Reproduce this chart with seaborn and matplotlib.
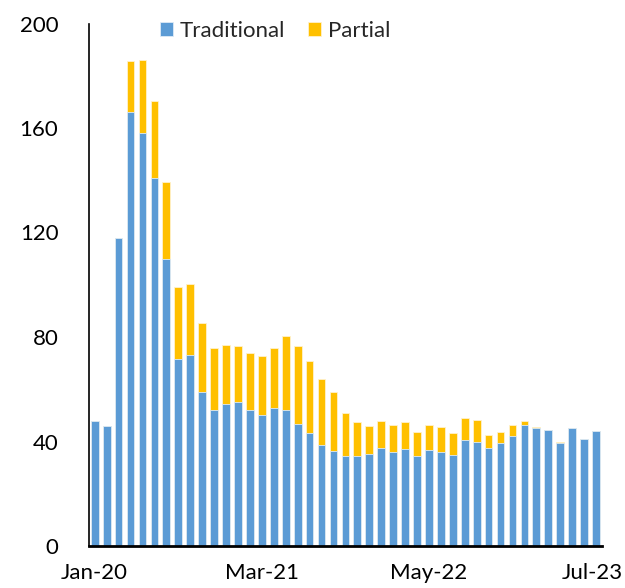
import pandas as pd
import numpy as np
import matplotlib
matplotlib.use('Agg')
import matplotlib.pyplot as plt
import matplotlib.transforms as mtransforms
import seaborn as sns

# Datos
months = pd.date_range('2020-01-01', periods=43, freq='MS').strftime('%b-%y').tolist()
traditional = [48, 46, 118, 166, 158, 141, 110, 71.5, 73, 59, 52, 54.5, 55, 52, 50,
               53, 52, 46.7, 43.3, 38.6, 36.5, 34.5, 34.5, 35.4, 37.6, 36.1, 37.1, 34.5,
               36.8, 36.1, 34.8, 40.5, 40, 37.6, 39.5, 42.2, 46.4, 45.2, 44.4, 39.5, 45,
               41, 44.1]
partial = [0, 0, 0, 19.6, 27.9, 29.4, 29.3, 27.7, 27.4, 26.3, 23.8, 22.6, 21.4, 21.8,
           22.6, 22.9, 28.2, 29.9, 27.6, 25.5, 22.4, 16.6, 12.9, 10.6, 10.2, 10.2, 10.2,
           9.2, 9.6, 9.4, 8.4, 8.4, 8.4, 4.8, 4.3, 4.1, 1.3, 0.2, 0, 0.3, 0, 0, 0]
tick_labels = ['Jan-20', 'Mar-21', 'May-22', 'Jul-23']
y_ticks = [0, 40, 80, 120, 160, 200]

df = pd.DataFrame({'month': months, 'Traditional': traditional, 'Partial': partial})
df['total'] = df['Traditional'] + df['Partial']

sns.set_style('white')
plt.rcParams['font.family'] = ['Lato', 'DejaVu Sans']

fig = plt.figure(figsize=(6.25, 5.88), dpi=100)
ax = fig.add_axes([89/625, 1 - 546/588, (602 - 89)/625, (546 - 23.5)/588])

blue = '#5B9BD5'
orange = '#FFC000'

# barras apiladas: total (naranja) y encima la parte tradicional (azul)
sns.barplot(data=df, x='month', y='total', color=orange, saturation=1, width=0.65,
            errorbar=None, edgecolor='#FFF2CC', linewidth=0.6, ax=ax, label='Partial')
sns.barplot(data=df, x='month', y='Traditional', color=blue, saturation=1, width=0.65,
            errorbar=None, edgecolor='#DEEBF7', linewidth=0.6, ax=ax, label='Traditional')

ax.set_ylim(0, 200)
ax.set_xlim(-0.48, 42.5)
ax.set_yticks(y_ticks)
ax.set_yticklabels([str(v) for v in y_ticks])
ax.set_xticks([months.index(t) for t in tick_labels])
ax.set_xticklabels(tick_labels)
ax.set_xlabel('')
ax.set_ylabel('')
ax.tick_params(axis='both', length=0, labelsize=16, colors='black')
ax.tick_params(axis='y', pad=22)
ax.tick_params(axis='x', pad=12)

# mover un poco la ultima etiqueta para que no se corte
last = ax.get_xticklabels()[-1]
last.set_transform(last.get_transform() + mtransforms.ScaledTranslation(-4/100, 0, fig.dpi_scale_trans))

for s in ['top', 'right']:
    ax.spines[s].set_visible(False)
ax.spines['left'].set_color('black')
ax.spines['left'].set_linewidth(1.2)
ax.spines['bottom'].set_color('black')
ax.spines['bottom'].set_linewidth(2)

handles, labels = ax.get_legend_handles_labels()
order = [labels.index('Traditional'), labels.index('Partial')]
ax.legend([handles[i] for i in order], [labels[i] for i in order],
          loc='center', bbox_to_anchor=(275/625, 1 - 31/588), bbox_transform=fig.transFigure,
          ncol=2, frameon=False, fontsize=16, handlelength=0.6, handleheight=0.6,
          handletextpad=0.3, columnspacing=1.0)

fig.savefig('out.png', dpi=100)
